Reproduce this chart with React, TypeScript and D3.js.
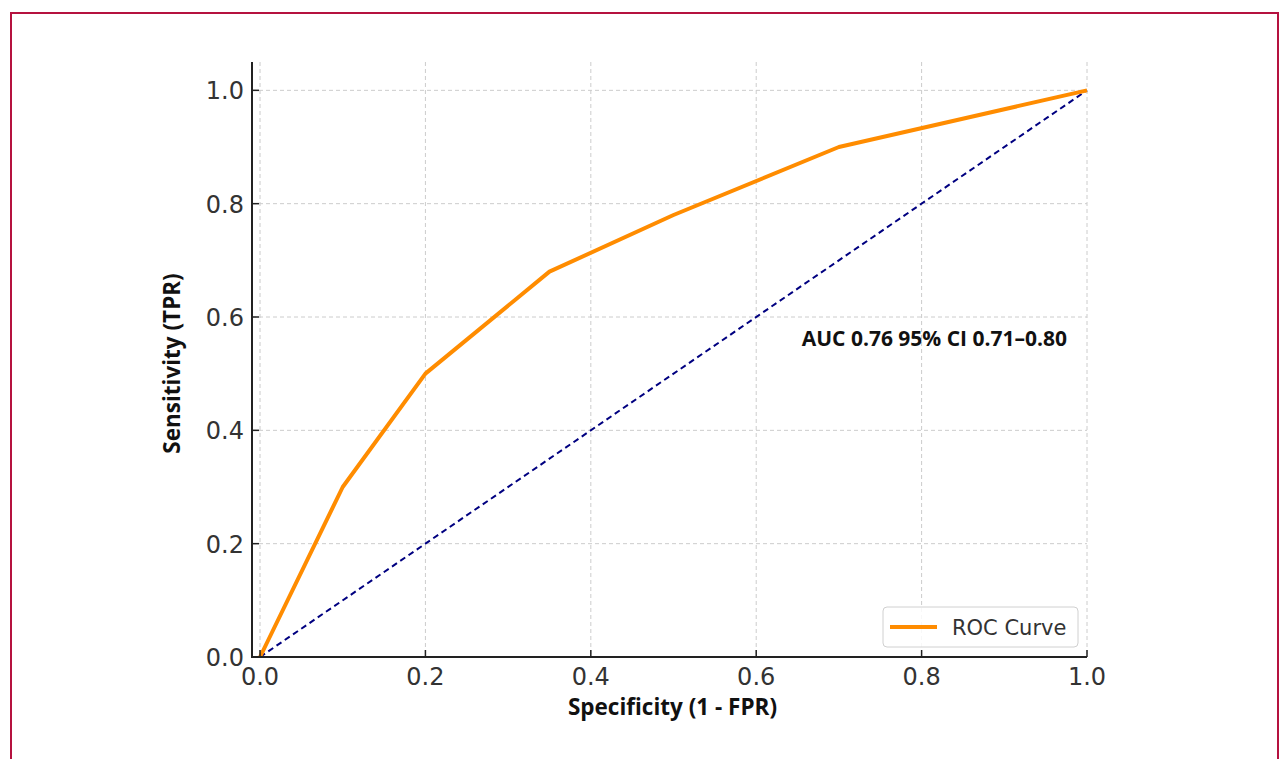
import React from "react";
import * as d3 from "d3";

// ROC points
const fpr = [0, 0.1, 0.2, 0.35, 0.5, 0.7, 1.0];
const tpr = [0, 0.3, 0.5, 0.68, 0.78, 0.9, 1.0];
const chanceLine = [0, 1];
const ticks = [0, 0.2, 0.4, 0.6, 0.8, 1.0];
const aucLabel = "AUC 0.76 95% CI 0.71–0.80";
const legendLabel = "ROC Curve";

const W = 1281;
const H = 759;
const margin = { top: 62, right: 194, bottom: 102, left: 252 };

const App = () => {
  const x = d3.scaleLinear().domain([-0.0097, 1.0]).range([margin.left, W - margin.right]);
  const y = d3.scaleLinear().domain([0, 1.05]).range([H - margin.bottom, margin.top]);

  const line = d3
    .line<number>()
    .x((_, i) => x(fpr[i]))
    .y((_, i) => y(tpr[i]));

  const diag = d3
    .line<number>()
    .x((d) => x(d))
    .y((d) => y(d));

  const x0 = margin.left;
  const x1 = W - margin.right;
  const y0 = H - margin.bottom;
  const y1 = margin.top;
  const tickFont = "DejaVu Sans, sans-serif";
  const labelFont = "'Open Sans', 'Noto Sans', sans-serif";

  return (
    <svg
      width={W}
      height={H}
      style={{ position: "absolute", left: 0, top: 0, background: "#fff" }}
    >
      <rect x={11} y={13} width={1267} height={H} fill="none" stroke="#b5123f" strokeWidth={2} />

      {/* grid */}
      <g stroke="#cccccc" strokeWidth={1} strokeDasharray="4,3">
        {ticks.map((t) => (
          <line key={"gx" + t} x1={x(t)} x2={x(t)} y1={y1} y2={y0} />
        ))}
        {ticks.map((t) => (
          <line key={"gy" + t} x1={x0} x2={x1} y1={y(t)} y2={y(t)} />
        ))}
      </g>

      {/* chance diagonal */}
      <path
        d={diag(chanceLine) ?? ""}
        fill="none"
        stroke="#000080"
        strokeWidth={2}
        strokeDasharray="6,4"
      />

      {/* ROC curve */}
      <path
        d={line(fpr) ?? ""}
        fill="none"
        stroke="#ff8c00"
        strokeWidth={4}
        strokeLinejoin="round"
      />

      {/* spines */}
      <line x1={x0} x2={x0} y1={y1} y2={y0 + 1} stroke="#222" strokeWidth={2} />
      <line x1={x0 - 1} x2={x1} y1={y0} y2={y0} stroke="#222" strokeWidth={2} />

      {/* x ticks */}
      {ticks.map((t) => (
        <g key={"xt" + t}>
          <line x1={x(t)} x2={x(t)} y1={y0} y2={y0 - 7} stroke="#222" strokeWidth={1.5} />
          <text
            x={x(t)}
            y={y0 + 28}
            textAnchor="middle"
            fontFamily={tickFont}
            fontSize={24}
            fill="#333"
          >
            {t.toFixed(1)}
          </text>
        </g>
      ))}

      {/* y ticks */}
      {ticks.map((t) => (
        <g key={"yt" + t}>
          <line x1={x0} x2={x0 + 7} y1={y(t)} y2={y(t)} stroke="#222" strokeWidth={1.5} />
          <text
            x={x0 - 8}
            y={y(t) + 9}
            textAnchor="end"
            fontFamily={tickFont}
            fontSize={24}
            fill="#333"
          >
            {t.toFixed(1)}
          </text>
        </g>
      ))}

      {/* axis labels */}
      <text
        x={(x0 + x1) / 2 + 3}
        y={715}
        textAnchor="middle"
        fontFamily={labelFont}
        fontWeight="bold"
        fontSize={22.5}
        fill="#111"
      >
        Specificity (1 - FPR)
      </text>
      <text
        transform={`translate(180,${(y0 + y1) / 2 + 4}) rotate(-90)`}
        textAnchor="middle"
        fontFamily={labelFont}
        fontWeight="bold"
        fontSize={22.5}
        fill="#111"
      >
        Sensitivity (TPR)
      </text>

      {/* AUC annotation */}
      <text
        x={x(0.655)}
        y={y(0.6) + 29}
        fontFamily={labelFont}
        fontWeight="bold"
        fontSize={21}
        fill="#111"
      >
        {aucLabel}
      </text>

      {/* legend */}
      <g>
        <rect
          x={883}
          y={607}
          width={195}
          height={40}
          rx={4}
          fill="#fff"
          fillOpacity={0.85}
          stroke="#d0d0d0"
          strokeWidth={1}
        />
        <line x1={890} x2={937} y1={627} y2={627} stroke="#ff8c00" strokeWidth={4} />
        <text x={952} y={635} fontFamily={tickFont} fontSize={21} fill="#333">
          {legendLabel}
        </text>
      </g>
    </svg>
  );
};

export default App;
